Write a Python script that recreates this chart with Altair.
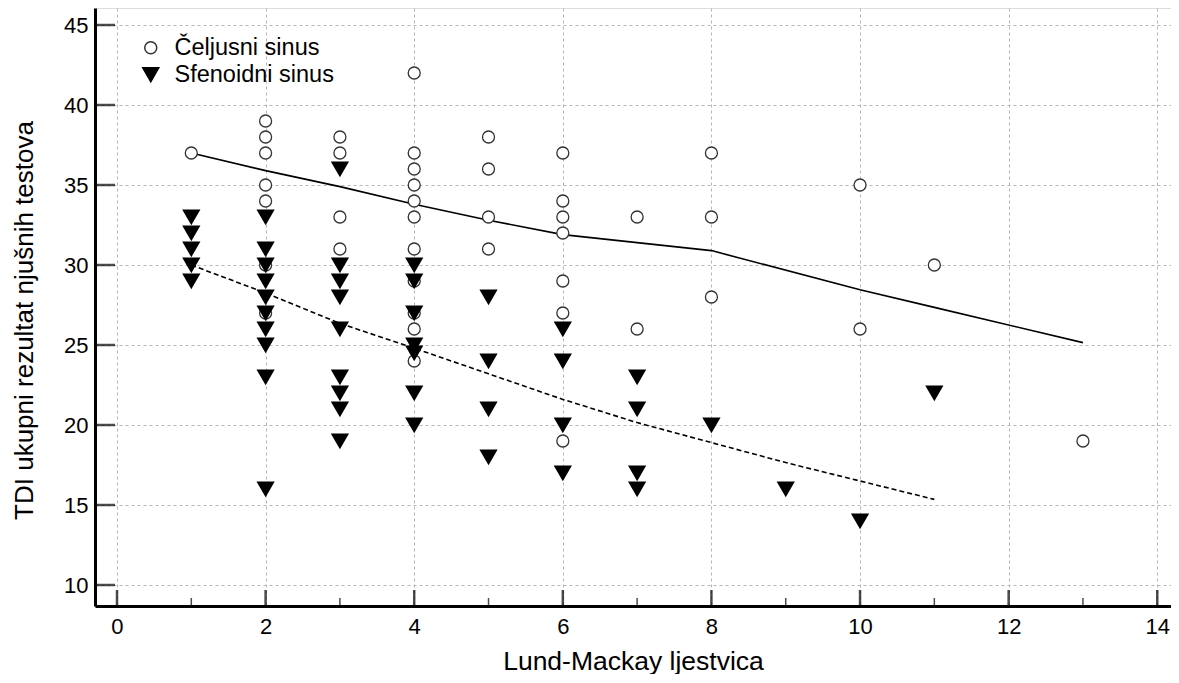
import altair as alt
import pandas as pd

# ---- data ----
cel_x = [1] + [2]*7 + [3]*4 + [4]*11 + [5]*4 + [6]*7 + [7]*2 + [8]*3 + [10]*2 + [11] + [13]
cel_y = [37,
         39, 38, 37, 35, 34, 30, 27,
         38, 37, 33, 31,
         42, 37, 36, 35, 34, 33, 31, 29, 27, 26, 24,
         38, 36, 33, 31,
         37, 34, 33, 32, 29, 27, 19,
         33, 26,
         37, 33, 28,
         35, 26,
         30,
         19]

sfe_x = [1]*5 + [2]*10 + [3]*9 + [4]*7 + [5]*4 + [6]*4 + [7]*4 + [8] + [9] + [10] + [11]
sfe_y = [33, 32, 31, 30, 29,
         33, 31, 30, 29, 28, 27, 26, 25, 23, 16,
         36, 30, 29, 28, 26, 23, 22, 21, 19,
         30, 29, 27, 25, 24.5, 22, 20,
         28, 24, 21, 18,
         26, 24, 20, 17,
         23, 21, 17, 16,
         20,
         16,
         14,
         22]

fit_cel_x = [1, 2, 3, 4, 5, 6, 7, 8, 10, 11, 13]
fit_cel_y = [37.0, 35.9, 34.9, 33.8, 32.8, 31.9, 31.4, 30.9, 28.45, 27.35, 25.15]
fit_sfe_x = [1, 2, 3, 4, 5, 6, 7, 8, 9, 10, 11]
fit_sfe_y = [30.0, 28.25, 26.35, 24.8, 23.2, 21.6, 20.15, 18.9, 17.65, 16.5, 15.35]

series = ["Čeljusni sinus", "Sfenoidni sinus"]
x_major = [0, 2, 4, 6, 8, 10, 12, 14]
x_minor = [1, 3, 5, 7, 9, 11, 13]
y_major = [10, 15, 20, 25, 30, 35, 40, 45]

# ---- layout ----
W, H = 1076, 598
FONT = "Liberation Sans"
xs = alt.Scale(domain=[-0.296, 14.185], nice=False, zero=False)
ys = alt.Scale(domain=[8.6875, 46.0625], nice=False, zero=False)

pts = pd.DataFrame({
    "x": cel_x + sfe_x,
    "y": cel_y + sfe_y,
    "s": [series[0]] * len(cel_x) + [series[1]] * len(sfe_x),
})
fit1 = pd.DataFrame({"x": fit_cel_x, "y": fit_cel_y})
fit2 = pd.DataFrame({"x": fit_sfe_x, "y": fit_sfe_y})

x_axis = alt.Axis(values=x_major, format="d", grid=True, gridDash=[3, 3], gridColor="#b5b5b5", gridWidth=1,
                  domain=True, domainColor="black", domainWidth=3, ticks=False,
                  labelFont=FONT, labelFontSize=22, labelColor="black", labelPadding=10,
                  title="Lund-Mackay ljestvica", titleFont=FONT, titleFontSize=26.5,
                  titleFontWeight="normal", titleColor="black", titleY=55, titleBaseline="middle")
y_axis = alt.Axis(values=y_major, format="d", grid=True, gridDash=[3, 3], gridColor="#b5b5b5", gridWidth=1,
                  domain=True, domainColor="black", domainWidth=3, ticks=False,
                  labelFont=FONT, labelFontSize=22, labelColor="black", labelPadding=7,
                  title="TDI ukupni rezultat njušnih testova", titleFont=FONT, titleFontSize=26,
                  titleFontWeight="normal", titleColor="black", titleX=-71, titleY=312,
                  titleAngle=-90, titleAlign="center", titleBaseline="middle")

leg = alt.Legend(title=None, orient="none", legendX=44, legendY=28,
                 labelFont=FONT, labelFontSize=23.5, labelColor="black",
                 labelOffset=12, rowPadding=2, padding=0)

points = alt.Chart(pts).mark_point(filled=True, strokeWidth=1.3, opacity=1).encode(
    x=alt.X("x:Q", scale=xs, axis=x_axis),
    y=alt.Y("y:Q", scale=ys, axis=y_axis),
    shape=alt.Shape("s:N", scale=alt.Scale(domain=series, range=["circle", "triangle-down"]), legend=leg),
    fill=alt.Fill("s:N", scale=alt.Scale(domain=series, range=["white", "black"]), legend=leg),
    stroke=alt.Stroke("s:N", scale=alt.Scale(domain=series, range=["#333333", "black"]), legend=leg),
    size=alt.Size("s:N", scale=alt.Scale(domain=series, range=[144, 256]), legend=leg),
)

line1 = alt.Chart(fit1).mark_line(color="black", strokeWidth=1.6).encode(
    x=alt.X("x:Q", scale=xs), y=alt.Y("y:Q", scale=ys))
line2 = alt.Chart(fit2).mark_line(color="black", strokeWidth=1.6, strokeDash=[5, 3]).encode(
    x=alt.X("x:Q", scale=xs), y=alt.Y("y:Q", scale=ys))

yt = alt.Chart(pd.DataFrame({"v": y_major})).mark_tick(orient="horizontal", size=20, thickness=2.5,
                                                         color="black").encode(
    y=alt.Y("v:Q", scale=ys), x=alt.value(10))
xt = alt.Chart(pd.DataFrame({"v": x_major})).mark_tick(orient="vertical", size=16, thickness=2.5,
                                                         color="black").encode(
    x=alt.X("v:Q", scale=xs), y=alt.value(H - 8))
xm = alt.Chart(pd.DataFrame({"v": x_minor})).mark_tick(orient="vertical", size=8, thickness=1.5,
                                                         color="black").encode(
    x=alt.X("v:Q", scale=xs), y=alt.value(H - 4))

chart = alt.layer(line1, line2, points, yt, xt, xm).properties(
    width=W, height=H,
    autosize=alt.AutoSizeParams(type="none"),
    padding={"left": 87, "top": 0, "right": 0, "bottom": 68},
).configure_view(stroke=None).configure(background="white")

chart.save("out.html", embed_options={"renderer": "svg", "actions": False})
